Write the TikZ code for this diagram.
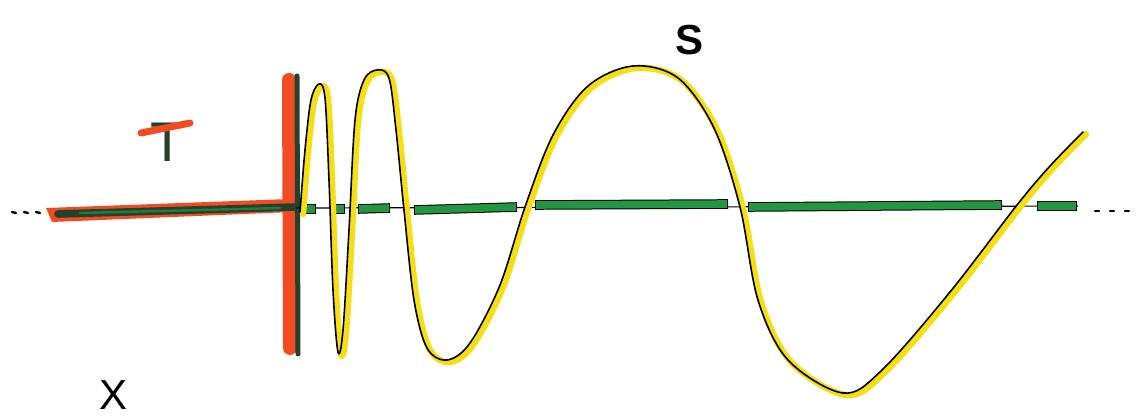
\documentclass[tikz,border=0pt]{standalone}
\usepackage{fontspec}
\setmainfont{Liberation Sans}
\definecolor{penred}{RGB}{240,75,35}
\definecolor{penyellow}{RGB}{245,222,20}
\definecolor{pengreen}{RGB}{35,150,65}
\definecolor{pendark}{RGB}{35,65,45}
\tikzset{
  wavey/.style={penyellow,line width=3.2pt,line cap=round,line join=round},
  waveb/.style={black,line width=0.8pt,line cap=round,line join=round},
  gout/.style={black,line width=4.8pt,line cap=butt},
  gin/.style={pengreen,line width=3.8pt,line cap=butt},
  dotdash/.style={black,line width=1.2pt,line cap=round},
  lbl/.style={inner sep=0pt,font=\fontsize{20}{20}\selectfont}
}
\begin{document}
\begin{tikzpicture}[x=0.5pt,y=-0.5pt]
\fill[white] (0,0) rectangle (1136,416);
\useasboundingbox (0,0) rectangle (1136,416);
% axis dots
\foreach \x in {12,24,36} \draw[dotdash] (\x,212) -- (\x+4,213);
\foreach \x in {1095,1110,1125} \draw[dotdash] (\x,211) -- (\x+4,211);
% red T-shape
\fill[penred] (46,208) -- (290,199) -- (292,212) -- (52,222) -- cycle;
\draw[penred,line width=7pt,line cap=round] (289,80) -- (290,348);
\draw[pendark,line width=3.8pt,line cap=round] (58,214) -- (296,207);
\draw[pengreen!70!pendark,line width=1.2pt,line cap=round] (80,213) -- (280,208);
\draw[pendark,line width=2.5pt,line cap=round] (297,76) -- (298,354);
% axis line
\coordinate (a0) at (296,208);
\coordinate (a1) at (1078,206);
\draw[black,line width=0.6pt] (a0) -- (a1);
% green dashes
\foreach \a/\b/\ya/\yb in {305/316/209/209, 332/345/209/209, 358/390/209/208, 414/517/210/207, 535/728/205/204, 748/1002/207/205, 1037/1077/206/206}{
  \draw[gout] (\a,\ya) -- (\b,\yb);
  \draw[gin] (\a+0.8,\ya) -- (\b-0.8,\yb);
}
% wave
\def\wavepts{(300,212) (305,150) (311,100) (319,84) (325,98) (329,180) (333,290) (338,352) (343,330) (349,230) (355,120) (364,80) (377,70) (389,78) (396,130) (404,210) (414,300) (427,348) (447,360) (470,343) (500,285) (525,207) (553,135) (588,86) (633,66) (678,78) (714,128) (740,207) (758,300) (788,360) (843,393) (882,370) (950,292) (1017,205) (1050,166) (1083,132)}
\draw[wavey,xshift=1.5pt,yshift=-1pt] plot[smooth,tension=0.55] coordinates \wavepts;
\draw[waveb] plot[smooth,tension=0.55] coordinates \wavepts;
% labels
\node[lbl,text=pendark,font=\fontsize{28}{28}\selectfont] (T) at (168,142) {T};
\draw[penred,line width=3.5pt,line cap=round] (141,133) -- (190,123);
\node[lbl,font=\fontsize{21}{21}\selectfont\bfseries] (S) at (690,40) {S};
\node[lbl,font=\fontsize{21}{21}\selectfont] (X) at (114,395) {X};
\end{tikzpicture}
\end{document}
